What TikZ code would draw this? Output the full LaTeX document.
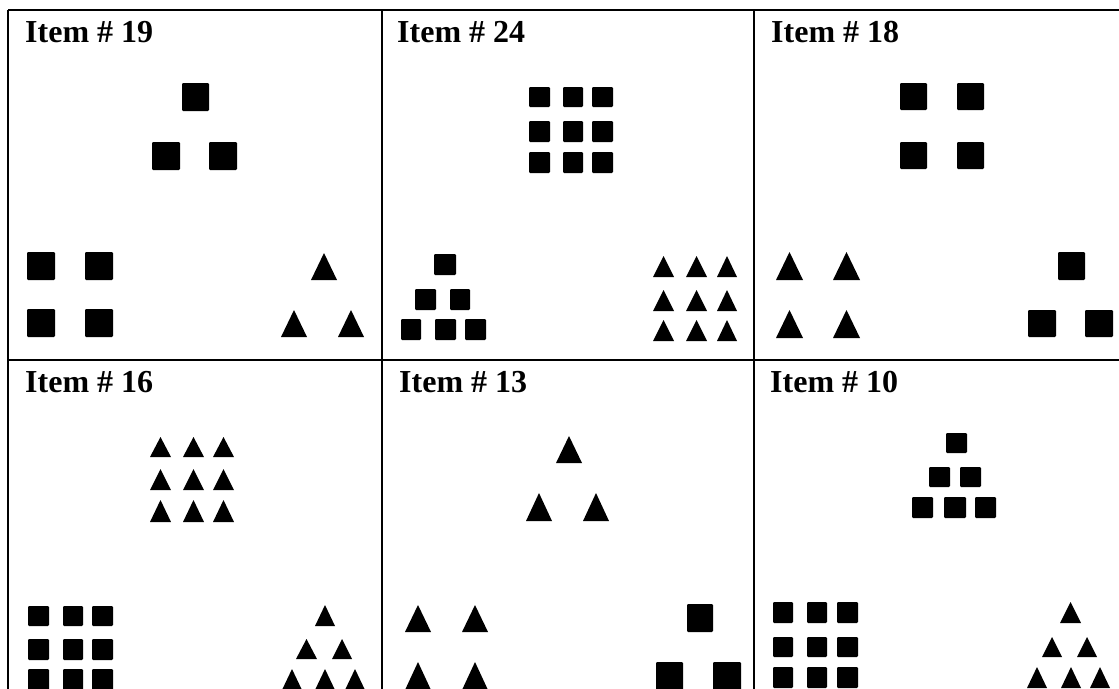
\documentclass[tikz,border=0pt]{standalone}
\usepackage{fontspec}
\setmainfont{Liberation Serif}
\tikzset{
  grid line/.style={line width=1.6pt, black},
  lbl/.style={anchor=base west, inner sep=0pt, font=\fontsize{32}{38}\selectfont\bfseries},
  shp/.style={fill=black, rounded corners=1.2pt}
}
\begin{document}
\begin{tikzpicture}[x=1pt,y=-1pt]
\useasboundingbox (0,0) rectangle (1119,688);
\clip (0,0) rectangle (1119,688);
\fill[white] (0,0) rectangle (1119,688);
% grid
\draw[grid line] (8,10) -- (1125,10);
\draw[grid line] (8,10) -- (8,700);
\draw[grid line] (382,10) -- (382,700);
\draw[grid line] (754,10) -- (754,700);
\draw[grid line] (8,360) -- (1125,360);
% labels
\node[lbl] (l19) at (25,42) {Item \# 19};
\node[lbl] (l24) at (397,42) {Item \# 24};
\node[lbl] (l18) at (771,42) {Item \# 18};
\node[lbl] (l16) at (25,392) {Item \# 16};
\node[lbl] (l13) at (399,392) {Item \# 13};
\node[lbl] (l10) at (770,392) {Item \# 10};
% squares
\foreach \a/\b/\c/\d in {
  182/83/209/111, 152/142/180/170, 209/142/237/170,
  27/252/55/280, 85/252/113/280, 27/309/55/337, 85/309/113/337,
  434/254/456/275, 415/289/436/310, 450/289/470/310,
  401/319/421/340, 435/319/456/340, 465/319/486/340,
  900/83/927/110, 957/83/984/110, 900/142/927/169, 957/142/984/169,
  1058/252/1085/280, 1028/310/1056/337, 1085/310/1113/337,
  687/604/713/632, 656/662/683/690, 713/662/741/690,
  946/433/967/453, 929/467/950/487, 960/467/981/487,
  912/497/933/518, 944/497/966/518, 975/497/996/518}
  \fill[shp] (\a,\b) rectangle (\c,\d);
% square grids
\foreach \a/\c in {529/550, 563/583, 592/613}
  \foreach \b/\d in {87/107, 121/142, 152/173}
    \fill[shp] (\a,\b) rectangle (\c,\d);
\foreach \a/\c in {28/49, 63/83, 92/113}
  \foreach \b/\d in {606/626, 639/660, 669/690}
    \fill[shp] (\a,\b) rectangle (\c,\d);
\foreach \a/\c in {773/793, 807/827, 837/858}
  \foreach \b/\d in {602/623, 637/657, 667/688}
    \fill[shp] (\a,\b) rectangle (\c,\d);
% triangles
\foreach \a/\b/\c/\d in {
  311/253/337/280, 281/310/307/337, 338/310/364/337,
  776/252/803/280, 833/252/860/280, 776/310/803/338, 833/310/860/338,
  315/605/335/626, 296/639/317/659, 332/639/352/659,
  282/669/302/690, 315/669/335/690, 345/669/365/690,
  556/436/582/463, 526/493/552/521, 583/493/609/521,
  405/605/431/632, 462/605/488/632, 405/662/431/690, 462/662/488/690,
  1060/602/1081/623, 1042/637/1062/657, 1077/637/1097/657,
  1027/667/1047/688, 1061/667/1081/688, 1090/667/1110/688}
  \fill (\a,\d) -- (\c,\d) -- ({(\a+\c)/2},\b) -- cycle;
% triangle grids
\foreach \a/\c in {653/674, 686/707, 717/737}
  \foreach \b/\d in {256/277, 290/311, 320/341}
    \fill (\a,\d) -- (\c,\d) -- ({(\a+\c)/2},\b) -- cycle;
\foreach \a/\c in {150/171, 183/204, 213/234}
  \foreach \b/\d in {437/457, 469/490, 500/522}
    \fill (\a,\d) -- (\c,\d) -- ({(\a+\c)/2},\b) -- cycle;
\end{tikzpicture}
\end{document}
